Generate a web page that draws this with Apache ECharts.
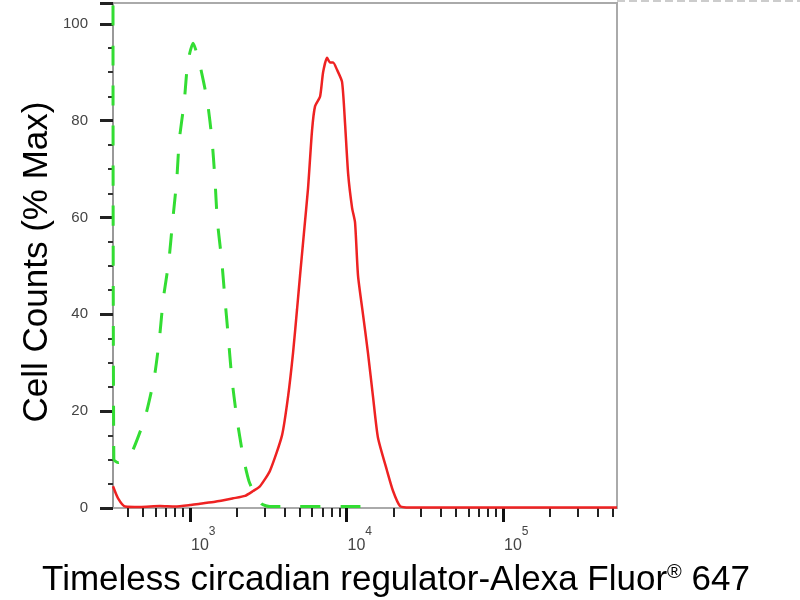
<!DOCTYPE html>
<html>
<head>
<meta charset="utf-8">
<script src="https://cdn.jsdelivr.net/npm/echarts@6/dist/echarts.min.js"></script>
<style>
  html, body { margin: 0; padding: 0; background: #fff; }
  #container { width: 800px; height: 600px; }
</style>
</head>
<body>
<div id="container"></div>
<script>
const container = document.getElementById('container');
const chartIns = echarts.init(container, undefined, { renderer: 'canvas' });

// 横轴范围（荧光强度）
const xRange = [322, 534600];
const majorTicks = [1000, 10000, 100000];
const minorTicks = [400, 500, 600, 700, 800, 900,
  2000, 3000, 4000, 5000, 6000, 7000, 8000, 9000,
  20000, 30000, 40000, 50000, 60000, 70000, 80000, 90000,
  200000, 300000, 400000, 500000];

// 同型对照（绿色虚线）
const isoIntensity = [322, 326, 348, 385, 424, 516, 591, 637, 675, 732, 775, 822, 854, 919, 967,
  1045, 1147, 1290, 1382, 1444, 1494, 1595, 1674, 1757, 1847, 1988, 2191, 2382, 2602, 2884, 3243, 15200];
const isoCounts = [112, 10, 9.4, 10, 11.4, 18.7, 27, 34.9, 43.2, 51, 59.4, 67.7, 76, 84, 92,
  96, 92, 84, 76, 67.7, 59.4, 51, 42.9, 35.2, 27, 18.7, 10.4, 5.5, 2.8, 0.8, 0.3, 0.3];

// 样本（红色实线）
const sampleIntensity = [322, 347, 385, 480, 643, 802, 1000, 1159, 1445, 1884, 2245, 2528, 2800, 3243,
  3870, 4230, 4550, 4827, 5045, 5350, 5675, 6020, 6295, 6776, 7083, 7505, 7850, 8204, 8695, 9360,
  9780, 10240, 10850, 11330, 11840, 12740, 13710, 14760, 15880, 18140, 19820, 21970, 25460, 534600];
const sampleCounts = [4.5, 2, 0.3, 0.2, 0.4, 0.3, 0.6, 0.9, 1.3, 2, 2.5, 3.5, 4.5, 7.7,
  15, 23, 32, 41, 48, 57, 66, 78, 83, 85, 90, 93, 92, 92, 90.5, 88,
  79.5, 69, 62, 59, 48, 40, 32, 23, 14.5, 7.7, 3.5, 0.4, 0.1, 0.1];

const toPairs = (xs, ys) => xs.map((v, i) => [Math.log10(v), ys[i]]);
const font = 'Liberation Sans, Arial, sans-serif';

const option = {
  animation: false,
  grid: {
    left: 113, right: 183, top: 3, bottom: 92,
    show: true, borderColor: '#aaa', borderWidth: 2
  },
  xAxis: [{
    type: 'value',
    min: Math.log10(xRange[0]),
    max: Math.log10(xRange[1]),
    axisLine: { lineStyle: { color: '#aaa', width: 2 } },
    axisTick: { customValues: majorTicks.map(Math.log10), length: 14, lineStyle: { color: '#111', width: 3 } },
    axisLabel: {
      customValues: majorTicks.map(Math.log10),
      align: 'left',
      margin: 18,
      formatter: v => '{b|10}{s|' + Math.round(v) + '}',
      rich: {
        b: { fontSize: 16, color: '#444', fontFamily: font, padding: [12, 0, 0, 1] },
        s: { fontSize: 12, color: '#444', fontFamily: font, verticalAlign: 'top' }
      }
    },
    splitLine: { show: false }
  }, {
    type: 'value',
    position: 'bottom',
    min: Math.log10(xRange[0]),
    max: Math.log10(xRange[1]),
    axisLine: { show: false },
    axisTick: { customValues: minorTicks.map(Math.log10), length: 9, lineStyle: { color: '#222', width: 2 } },
    axisLabel: { show: false },
    splitLine: { show: false }
  }],
  yAxis: {
    type: 'value',
    min: 0,
    max: 104.3,
    interval: 20,
    axisLine: { show: true, lineStyle: { color: '#999', width: 2 } },
    axisTick: { length: 13, lineStyle: { color: '#222', width: 3 } },
    minorTick: { show: true, splitNumber: 4, length: 5, lineStyle: { color: '#333', width: 2 } },
    axisLabel: {
      margin: 25, fontSize: 15, color: '#444', fontFamily: font,
      formatter: v => (v % 20 === 0 && v <= 100) ? String(v) : ''
    },
    splitLine: { show: false }
  },
  graphic: [
    {
      type: 'line', silent: true,
      shape: { x1: 617, y1: 1, x2: 800, y2: 1 },
      style: { stroke: '#ccc', lineWidth: 2, lineDash: [8, 4] }
    },
    {
      type: 'text', x: 37, y: 262, rotation: Math.PI / 2,
      style: {
        text: 'Cell Counts (% Max)', fill: '#000',
        font: '35px ' + font, align: 'center', verticalAlign: 'middle'
      }
    },
    {
      type: 'text', x: 396, y: 580,
      style: {
        text: '{a|Timeless circadian regulator-Alexa Fluor}{s|®}{a| 647}',
        align: 'center', verticalAlign: 'middle',
        rich: {
          a: { fontSize: 35, fontFamily: font, fill: '#000' },
          s: { fontSize: 20, fontFamily: font, fill: '#000', verticalAlign: 'top' }
        }
      }
    }
  ],
  series: [{
    type: 'line',
    name: 'Isotype',
    data: toPairs(isoIntensity, isoCounts),
    showSymbol: false,
    smooth: 0.2,
    clip: true,
    lineStyle: { color: '#33dd33', width: 3, type: [20, 20] }
  }, {
    type: 'line',
    name: 'Timeless',
    data: toPairs(sampleIntensity, sampleCounts),
    showSymbol: false,
    smooth: 0.2,
    clip: true,
    lineStyle: { color: '#ee2222', width: 2.5 }
  }]
};

chartIns.setOption(option);
</script>
</body>
</html>
